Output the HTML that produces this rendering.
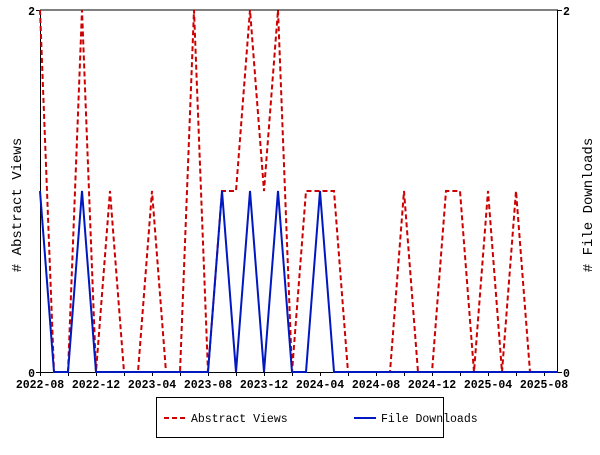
<!DOCTYPE html><html><head><style>body{margin:0;background:#fff}</style></head><body>
<svg width="600" height="450" xmlns="http://www.w3.org/2000/svg" font-family="Liberation Mono, monospace" font-size="11.5" font-weight="bold">
<rect width="600" height="450" fill="#fff"/>
<g stroke="#000" stroke-width="1">
<line x1="40" y1="10" x2="558" y2="10"/>
<line x1="40.5" y1="10" x2="40.5" y2="372"/>
<line x1="557.5" y1="10" x2="557.5" y2="372"/>
<line x1="40" y1="372.5" x2="558" y2="372.5"/>
<line x1="36" y1="10.5" x2="40" y2="10.5"/><line x1="36" y1="372.5" x2="40" y2="372.5"/>
<line x1="558" y1="10.5" x2="562" y2="10.5"/><line x1="558" y1="372.5" x2="562" y2="372.5"/>
</g>
<g id="ticks" stroke="#000"></g>
<polyline fill="none" stroke="#c00" stroke-width="2" stroke-dasharray="5,3" points="40,10 54,372 68,372 82,10 96,372 110,191 124,372 138,372 152,191 166,372 180,372 194,10 208,372 222,191 236,191 250,10 264,191 278,10 292,372 306,191 320,191 334,191 348,372 362,372 376,372 390,372 404,191 418,372 432,372 446,191 460,191 474,372 488,191 502,372 516,191 530,372 544,372 558,372"/>
<polyline fill="none" stroke="#0018c0" stroke-width="2" points="40,191 54,372 68,372 82,191 96,372 110,372 124,372 138,372 152,372 166,372 180,372 194,372 208,372 222,191 236,372 250,191 264,372 278,191 292,372 306,372 320,191 334,372 348,372 558,372"/>
<g text-anchor="end"><text x="35" y="15">2</text><text x="35" y="377">0</text></g>
<g><text x="563" y="15">2</text><text x="563" y="377">0</text></g>
<g text-anchor="middle">
<text x="40" y="388">2022-08</text><text x="96" y="388">2022-12</text><text x="152" y="388">2023-04</text><text x="208" y="388">2023-08</text><text x="264" y="388">2023-12</text><text x="320" y="388">2024-04</text><text x="376" y="388">2024-08</text><text x="432" y="388">2024-12</text><text x="488" y="388">2025-04</text><text x="544" y="388">2025-08</text>
<text transform="translate(21,205) rotate(-90)" font-size="14" font-weight="normal"># Abstract Views</text>
<text transform="translate(592,205) rotate(-90)" font-size="14" font-weight="normal"># File Downloads</text>
</g>
<rect x="156.5" y="397.5" width="287" height="40" fill="#fff" stroke="#000"/>
<line x1="164" y1="418" x2="186" y2="418" stroke="#c00" stroke-width="2" stroke-dasharray="5,3"/>
<text x="191" y="422" font-weight="normal" font-size="11.5">Abstract Views</text>
<line x1="354" y1="418" x2="376" y2="418" stroke="#0018c0" stroke-width="2"/>
<text x="381" y="422" font-weight="normal" font-size="11.5">File Downloads</text>
<script>
var g=document.getElementById('ticks');for(var i=0;i<=37;i+=2){var x=40+i*14+0.5;var l=document.createElementNS('http://www.w3.org/2000/svg','line');l.setAttribute('x1',x);l.setAttribute('x2',x);l.setAttribute('y1',372);l.setAttribute('y2',376);g.appendChild(l);}
</script>
</svg>
</body></html>
